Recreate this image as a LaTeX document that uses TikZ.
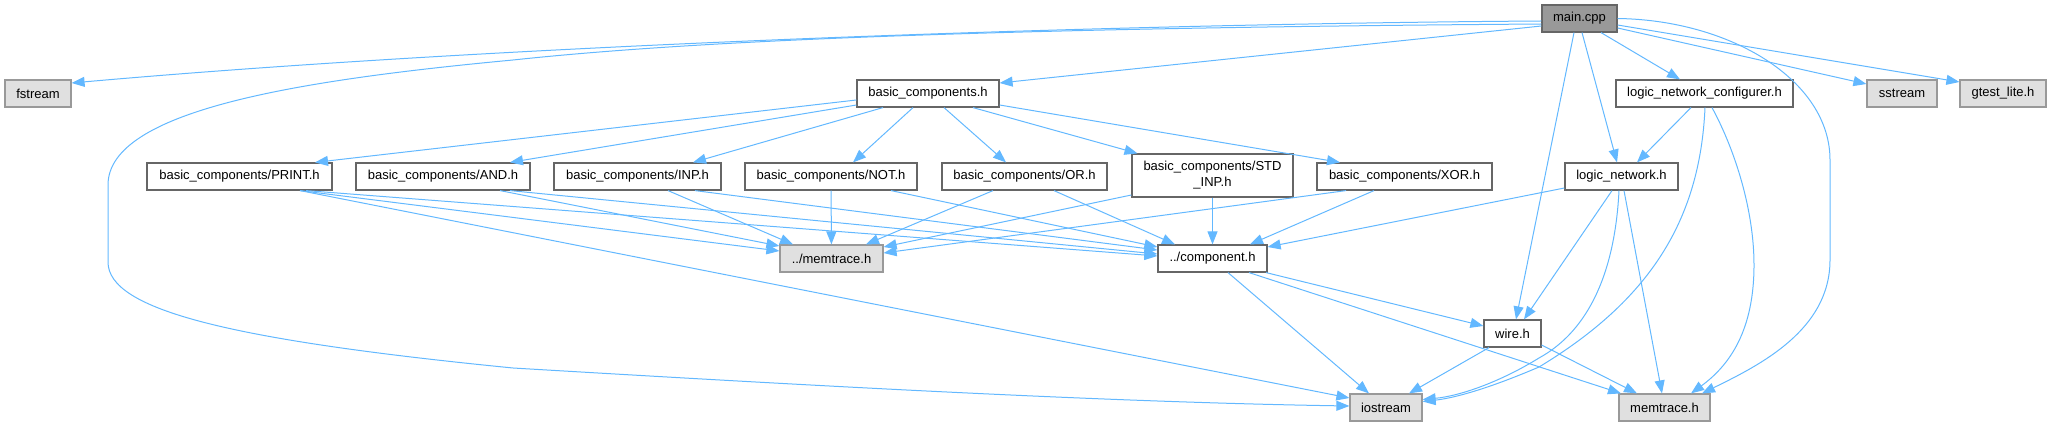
\documentclass[tikz,border=0pt]{standalone}
\usepackage{fontspec}
\setmainfont{Liberation Sans}
\usepackage{xcolor}
\usetikzlibrary{arrows.meta}
\definecolor{edgeblue}{HTML}{63B8FF}
\definecolor{boxline}{HTML}{666666}
\definecolor{sysline}{HTML}{999999}
\definecolor{sysfill}{HTML}{E0E0E0}
\definecolor{srcfill}{HTML}{999999}

\begin{document}
\begin{tikzpicture}[
    x=1pt, y=-1pt,
    header/.style={rectangle, draw=boxline, fill=white, line width=1.2pt, minimum height=27pt, inner sep=0pt, font=\fontsize{13pt}{16pt}\selectfont},
    sysheader/.style={header, draw=sysline, fill=sysfill},
    source/.style={header, fill=srcfill},
    include/.style={draw=edgeblue, line width=1pt, -{Triangle[length=13pt, width=10pt]}}
]
\useasboundingbox (0,0) rectangle (2051,427);

\node[source, minimum width=75pt] (main) at (1579.5,18.5) {main.cpp};
\node[sysheader, minimum width=66pt] (fstream) at (38,93.5) {fstream};
\node[header, minimum width=142pt] (bc) at (928,93.5) {basic\_components.h};
\node[header, minimum width=177pt] (lnc) at (1704.5,93.5) {logic\_network\_configurer.h};
\node[sysheader, minimum width=70pt] (sstream) at (1902,93.5) {sstream};
\node[sysheader, minimum width=86pt] (gtest) at (2003,93.5) {gtest\_lite.h};
\node[header, minimum width=185pt] (print) at (239.5,176.5) {basic\_components/PRINT.h};
\node[header, minimum width=174pt] (and) at (443,176.5) {basic\_components/AND.h};
\node[header, minimum width=167pt] (inp) at (637.5,176.5) {basic\_components/INP.h};
\node[header, minimum width=172pt] (not) at (831,176.5) {basic\_components/NOT.h};
\node[header, minimum width=165pt] (or) at (1024.5,176.5) {basic\_components/OR.h};
\node[header, minimum width=161pt, minimum height=43pt, align=center] (stdinp) at (1212.5,175.5) {basic\_components/STD\\\_INP.h};
\node[header, minimum width=175pt] (xor) at (1404.5,176.5) {basic\_components/XOR.h};
\node[header, minimum width=113pt] (ln) at (1621.5,176.5) {logic\_network.h};
\node[sysheader, minimum width=103pt] (memtr) at (831.5,258.5) {../memtrace.h};
\node[header, minimum width=109pt] (comp) at (1212.5,258.5) {../component.h};
\node[header, minimum width=57pt] (wire) at (1512.5,333.5) {wire.h};
\node[sysheader, minimum width=72pt] (iostream) at (1386,407.5) {iostream};
\node[sysheader, minimum width=91pt] (memtrace) at (1664.5,407.5) {memtrace.h};

\draw[include] ([yshift=-2.5pt]main.west) .. controls (1100,24) and (500,45) .. ([yshift=10.5pt]fstream.east);
\draw[include] ([yshift=-5.5pt]main.west) .. controls (1000,28) and (700,40) .. (513,60) .. controls (300,80) and (108,110) .. (108,185) -- (108,262) .. controls (108,310) and (230,340) .. (513,368) .. controls (800,385) and (1100,402) .. ([yshift=1.5pt]iostream.west);
\draw[include] ([yshift=-7.5pt]main.west) -- ([yshift=10.5pt]bc.east);
\draw[include] ([xshift=-5.5pt]main.south) -- ([xshift=3.5pt]wire.north);
\draw[include] ([xshift=2.5pt]main.south) -- ([xshift=-4.5pt]ln.north);
\draw[include] ([xshift=21.5pt]main.south) -- ([xshift=-24.5pt]lnc.north);
\draw[include] ([yshift=-9.5pt]main.east) -- ([yshift=9.5pt]sstream.west);
\draw[include] ([yshift=-6.5pt]main.east) -- ([yshift=11.5pt]gtest.west);
\draw[include] (main.east) .. controls (1730,20) and (1830,80) .. (1830,160) -- (1830,260) .. controls (1830,330) and (1760,365) .. ([xshift=37.5pt]memtrace.north);

\draw[include] ([yshift=-6.5pt]bc.west) -- ([xshift=75.5pt]print.north);
\draw[include] ([yshift=-11.5pt]bc.west) -- ([xshift=67pt]and.north);
\draw[include] ([xshift=-45pt]bc.south) -- ([xshift=55.5pt]inp.north);
\draw[include] ([xshift=-15pt]bc.south) -- ([xshift=22pt]not.north);
\draw[include] ([xshift=16pt]bc.south) -- ([xshift=-18.5pt]or.north);
\draw[include] ([xshift=45pt]bc.south) -- ([xshift=-75pt]stdinp.north);
\draw[include] ([yshift=-11.5pt]bc.east) -- ([xshift=-64.5pt]xor.north);

\draw[include] ([xshift=60.5pt]print.south) -- ([yshift=7.5pt]memtr.west);
\draw[include] ([xshift=66.5pt]print.south) -- ([yshift=2.5pt]comp.west);
\draw[include] ([xshift=60.5pt]print.south) -- ([yshift=9.5pt]iostream.west);
\draw[include] ([xshift=57pt]and.south) -- ([yshift=12.5pt]memtr.west);
\draw[include] ([xshift=67pt]and.south) -- ([yshift=4.5pt]comp.west);
\draw[include] ([xshift=30.5pt]inp.south) -- ([xshift=-38.5pt]memtr.north);
\draw[include] ([xshift=57.5pt]inp.south) -- ([yshift=8.5pt]comp.west);
\draw[include] (not) -- (memtr);
\draw[include] ([xshift=60pt]not.south) -- ([yshift=11.5pt]comp.west);
\draw[include] ([xshift=-31.5pt]or.south) -- ([xshift=34.5pt]memtr.north);
\draw[include] ([xshift=29.5pt]or.south) -- ([xshift=-37.5pt]comp.north);
\draw[include] ([yshift=-19.5pt]stdinp.west) -- ([yshift=11.5pt]memtr.east);
\draw[include] (stdinp) -- (comp);
\draw[include] ([xshift=-58.5pt]xor.south) -- ([yshift=5.5pt]memtr.east);
\draw[include] ([xshift=-30.5pt]xor.south) -- ([xshift=37.5pt]comp.north);

\draw[include] ([yshift=-11.5pt]ln.west) -- ([yshift=11.5pt]comp.east);
\draw[include] ([xshift=-9.5pt]ln.south) -- ([xshift=11.5pt]wire.north);
\draw[include] ([xshift=-2.5pt]ln.south) .. controls (1615,270) and (1590,330) .. (1539,358) .. controls (1500,382) and (1460,396) .. ([yshift=8pt]iostream.east);
\draw[include] ([xshift=2.5pt]ln.south) -- ([xshift=-2.5pt]memtrace.north);
\draw[include] ([xshift=-13.5pt]lnc.south) -- ([xshift=15.5pt]ln.north);
\draw[include] ([xshift=0.5pt]lnc.south) .. controls (1700,220) and (1650,300) .. (1539,367) .. controls (1490,388) and (1455,398) .. ([yshift=6pt]iostream.east);
\draw[include] ([xshift=7.5pt]lnc.south) .. controls (1735,150) and (1754,210) .. (1754,265) .. controls (1754,330) and (1730,365) .. ([xshift=26.5pt]memtrace.north);

\draw[include] ([xshift=53.5pt]comp.south) -- ([yshift=7.5pt]wire.west);
\draw[include] ([xshift=15.5pt]comp.south) -- ([xshift=-17pt]iostream.north);
\draw[include] ([xshift=36.5pt]comp.south) -- ([xshift=-43.5pt]memtrace.north);
\draw[include] ([xshift=-23.5pt]wire.south) -- ([xshift=23pt]iostream.north);
\draw[include] ([yshift=-11.5pt]wire.east) -- ([xshift=-27.5pt]memtrace.north);
\end{tikzpicture}
\end{document}
